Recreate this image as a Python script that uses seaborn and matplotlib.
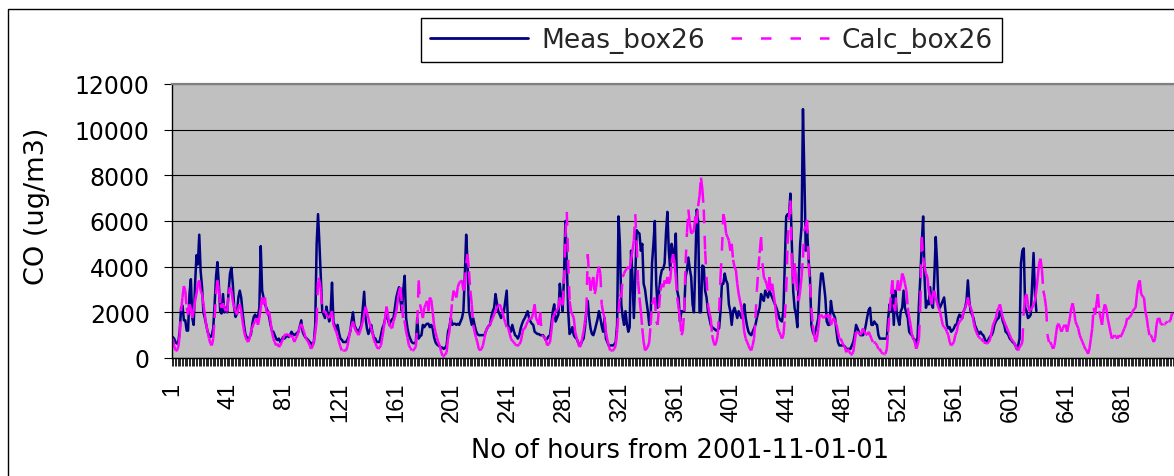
import numpy as np
import pandas as pd
import seaborn as sns
import matplotlib
matplotlib.use("Agg")
import matplotlib.pyplot as plt
from matplotlib.lines import Line2D
from matplotlib.patches import Rectangle

# Hourly CO concentrations (ug/m3), hour 1 = 2001-11-01 01:00
meas_co = [
    920, 850, 700, 630, 700, 1150, 2200, 2300, 1650, 1650,
    1200, 1200, 2800, 3450, 1750, 1450, 3200, 4500, 4100, 5400,
    3800, 3100, 2000, 1750, 1450, 1150, 1000, 920, 1000, 1300,
    2350, 3550, 4200, 3250, 2050, 1950, 2800, 2000, 2200, 2000,
    2900, 3700, 3950, 3250, 2200, 1800, 1950, 2650, 2950, 2650,
    2000, 1450, 1050, 900, 850, 900, 1050, 1500, 1800, 1900,
    1750, 1800, 2200, 4900, 2950, 2650, 2350, 2200, 2050, 1800,
    1450, 1200, 1150, 1000, 850, 780, 850, 700, 780, 920,
    850, 920, 1000, 920, 1000, 1150, 1050, 1000, 1050, 1100,
    1150, 1400, 1650, 1150, 1000, 900, 850, 780, 700, 650,
    550, 700, 1450, 5000, 6300, 5000, 3500, 2050, 1900, 1750,
    2250, 1900, 1600, 2000, 3300, 1600, 1400, 1200, 1450, 1100,
    850, 800, 700, 700, 700, 800, 950, 1150, 1600, 2000,
    1450, 1300, 1200, 1150, 1300, 1450, 2200, 2900, 1750, 1300,
    1050, 1200, 1450, 1100, 900, 850, 700, 700, 700, 1000,
    1300, 1450, 1700, 2050, 1700, 1450, 1600, 1700, 1750, 2200,
    2650, 2900, 3100, 2500, 2050, 3000, 3600, 1750, 1300, 1000,
    850, 700, 650, 650, 700, 1750, 850, 950, 1000, 1450,
    1350, 1450, 1500, 1500, 1350, 1450, 1300, 920, 700, 600,
    550, 500, 480, 450, 400, 450, 550, 1150, 1350, 1750,
    1450, 1500, 1500, 1450, 1500, 1450, 1600, 1750, 2050, 3550,
    5400, 4150, 2050, 1750, 1450, 1750, 1450, 1200, 1050, 1000,
    1000, 1000, 1000, 1000, 1150, 1300, 1400, 1450, 1800, 2050,
    2200, 2800, 2400, 2050, 1900, 1750, 1900, 2050, 2500, 2950,
    1450, 1300, 1150, 1450, 1200, 1000, 950, 850, 1000, 1300,
    1500, 1650, 1750, 1900, 2050, 1750, 1600, 1500, 1450, 1150,
    1100, 1050, 1050, 1000, 1000, 1000, 900, 780, 850, 950,
    1000, 1500, 2050, 2350, 1600, 1750, 1900, 3250, 2600, 2050,
    3550, 6000, 4150, 2050, 1050, 1150, 1350, 1000, 900, 850,
    700, 550, 600, 750, 850, 1300, 2050, 2500, 1750, 1300,
    1050, 1000, 1200, 1450, 1700, 2050, 1750, 1400, 1150, 1750,
    850, 700, 550, 550, 550, 550, 600, 700, 1450, 6200,
    5000, 2350, 1800, 1450, 2050, 1500, 1150, 1350, 4700, 3550,
    1750, 3500, 5600, 5500, 5450, 4700, 5000, 3250, 3000, 2500,
    2050, 1450, 1750, 4150, 5000, 6000, 3250, 2200, 2900, 3550,
    3850, 3900, 4150, 5500, 6400, 4700, 3850, 5000, 4600, 4400,
    5450, 2950, 2650, 1600, 2050, 2050, 2050, 3550, 3850, 4400,
    3900, 3550, 2350, 2000, 4150, 6500, 6000, 2000, 2000, 4050,
    4000, 2950, 2650, 2050, 1750, 1450, 1350, 1300, 1250, 1200,
    1250, 1300, 2050, 3250, 3250, 3700, 3400, 3250, 2350, 2050,
    1450, 2050, 2200, 2000, 1750, 2050, 1900, 1750, 2000, 2350,
    1750, 1400, 1150, 1050, 1000, 1150, 1300, 1450, 1750, 2000,
    2200, 2800, 2600, 2500, 2950, 2800, 2650, 2950, 2800, 2650,
    2500, 2350, 2200, 2000, 1750, 1650, 1600, 2050, 4150, 6200,
    6300, 6200, 7200, 5000, 2950, 2200, 1900, 1350, 3550, 5000,
    5750, 10900, 8000, 4700, 5600, 4300, 3550, 1450, 1150, 1000,
    1200, 1450, 1750, 2950, 3700, 3700, 3200, 2650, 1600, 1450,
    1450, 2500, 2050, 1900, 1750, 1150, 700, 550, 550, 550,
    550, 500, 400, 400, 400, 400, 550, 700, 1000, 1450,
    1300, 1150, 1000, 1000, 1000, 1150, 1450, 1800, 2100, 2200,
    1450, 1450, 1600, 1500, 1450, 1000, 850, 850, 850, 850,
    850, 850, 1750, 2350, 2050, 2950, 1450, 2950, 2050, 1700,
    1450, 2050, 2200, 2950, 2200, 1950, 1750, 1150, 1050, 1000,
    850, 800, 550, 900, 2350, 3550, 5000, 6200, 3550, 2200,
    2500, 2350, 3100, 2350, 2200, 3550, 5300, 4150, 2350, 2200,
    2350, 2500, 2650, 2050, 1450, 1300, 1350, 1150, 1200, 1300,
    1450, 1450, 1750, 1900, 1800, 1750, 2050, 2200, 2500, 3400,
    2500, 2050, 1900, 1750, 1450, 1300, 1150, 1050, 1150, 1050,
    1000, 850, 700, 700, 850, 950, 1000, 1150, 1450, 1600,
    1700, 1750, 2050, 1900, 1600, 1450, 1150, 1100, 1000, 850,
    780, 700, 650, 550, 400, 550, 850, 4150, 4700, 4800,
    2200, 2050, 1750, 1800, 1900, 3250, 4600, 2800, 2050,
]

calc_co = [
    850, 550, 330, 330, 480, 1000, 2050, 2650, 3150, 2950,
    2200, 1900, 2350, 2200, 1750, 2050, 2500, 2800, 3250, 3400,
    2950, 2800, 2350, 1900, 1450, 1150, 850, 630, 550, 850,
    1750, 2800, 3400, 3000, 2350, 2200, 2400, 2200, 2050, 2050,
    2800, 3100, 2950, 2500, 2200, 2050, 1900, 2200, 2350, 2050,
    1600, 1200, 920, 780, 700, 850, 1150, 1350, 1500, 1600,
    1750, 1450, 1750, 2200, 2650, 2350, 2650, 2050, 1900, 2050,
    1600, 1150, 850, 700, 550, 630, 480, 550, 700, 850,
    1000, 1050, 1000, 1050, 920, 1000, 900, 700, 850, 950,
    1150, 1350, 1500, 1300, 1150, 900, 800, 700, 550, 400,
    500, 700, 1100, 1600, 3500, 3400, 2950, 2050, 2050, 2050,
    1900, 1800, 1750, 1900, 2050, 1450, 1300, 1150, 950, 700,
    500, 330, 330, 330, 330, 500, 850, 1200, 1400, 1600,
    1350, 1200, 1100, 1000, 1150, 1350, 1600, 1900, 2250, 2000,
    1750, 1500, 1300, 1100, 780, 650, 500, 400, 450, 550,
    900, 1300, 1750, 2250, 1900, 1450, 1350, 1300, 1600, 1800,
    2050, 2500, 2950, 3100, 2350, 1600, 1600, 1150, 900, 550,
    450, 330, 330, 400, 500, 1500, 3400, 2350, 2050, 1750,
    2200, 2350, 2500, 2050, 2650, 2550, 2050, 1450, 1150, 900,
    700, 550, 300, 100, 100, 150, 250, 850, 1150, 1750,
    2500, 2950, 2800, 2650, 3100, 3300, 3350, 3400, 2950, 3150,
    4150, 4550, 3800, 2950, 2350, 1450, 1150, 900, 700, 400,
    330, 400, 550, 850, 1150, 1300, 1400, 1450, 1600, 1750,
    1900, 2050, 2200, 2300, 2350, 2200, 2000, 1750, 1550, 1350,
    1350, 1100, 850, 750, 700, 600, 550, 550, 600, 700,
    1000, 1300, 1300, 1450, 1600, 1700, 1750, 1750, 2000, 2350,
    1750, 1600, 1450, 2000, 1000, 950, 920, 800, 550, 600,
    700, 1200, 1750, 1900, 2050, 2100, 2200, 2650, 2350, 2350,
    3250, 5300, 6400, 4300, 2500, 2050, 1900, 1750, 1150, 900,
    700, 480, 550, 850, 1150, 1600, 2050, 4550, 3550, 2950,
    3300, 3550, 2800, 3100, 3700, 4000, 3700, 2350, 2000, 1750,
    1150, 800, 550, 330, 330, 330, 400, 550, 1150, 2000,
    2800, 2650, 3550, 3700, 3850, 3900, 4000, 3900, 4300, 4700,
    5150, 6300, 5000, 3400, 2650, 2050, 1300, 700, 330, 400,
    480, 700, 1450, 2350, 2500, 2650, 1600, 1450, 2200, 2950,
    3250, 3100, 3400, 3250, 3550, 3250, 3400, 4150, 4550, 4150,
    3550, 2650, 2200, 1750, 1000, 1150, 2050, 4150, 5500, 6500,
    5900, 5450, 5500, 5600, 6200, 5900, 6650, 7100, 7900, 7400,
    6500, 4700, 3550, 2350, 2000, 1750, 1000, 700, 550, 700,
    1000, 2050, 3550, 4700, 6300, 6050, 5450, 5300, 5150, 4700,
    5000, 4300, 4000, 3850, 3250, 2800, 2500, 2200, 1750, 1150,
    850, 700, 550, 400, 330, 550, 850, 1750, 2950, 3850,
    4600, 5300, 4150, 3550, 3400, 3250, 2950, 3550, 2950, 3250,
    2800, 2350, 1750, 1300, 1150, 1000, 850, 1000, 1750, 2950,
    5000, 6050, 6900, 4150, 3250, 4150, 3550, 2700, 2500, 2950,
    3550, 4400, 5600, 5800, 6050, 4150, 3250, 2200, 1450, 1000,
    700, 850, 1300, 1900, 1900, 1800, 1750, 1850, 1900, 1750,
    1900, 1450, 1600, 1750, 1600, 1450, 1150, 850, 850, 700,
    550, 480, 250, 400, 300, 180, 180, 250, 700, 1150,
    1150, 1100, 1000, 1150, 1300, 1150, 1050, 1000, 1150, 1000,
    850, 700, 700, 650, 550, 400, 400, 250, 200, 180,
    180, 400, 1150, 2050, 2800, 3400, 2350, 2050, 2950, 3400,
    2950, 3200, 3700, 3550, 3250, 2950, 2200, 1800, 1450, 1000,
    850, 700, 400, 550, 850, 2350, 5300, 4400, 4000, 3700,
    3550, 2950, 2650, 2350, 2800, 2950, 2650, 2400, 2200, 2050,
    1750, 1450, 1350, 1300, 1150, 1000, 700, 550, 600, 700,
    1000, 1150, 1450, 1600, 1650, 1750, 2050, 2200, 2350, 2650,
    2350, 2200, 2050, 1600, 1300, 1150, 1000, 900, 850, 850,
    700, 700, 630, 650, 700, 850, 1150, 1450, 1600, 1750,
    2050, 2200, 2350, 2050, 1750, 1600, 1450, 1300, 1150, 1000,
    850, 750, 700, 550, 400, 330, 480, 550, 700, 2050,
    2650, 2800, 2350, 2050, 2100, 2200, 2350, 2500, 2950, 3550,
    4150, 4350, 3850, 2950, 2650, 2200, 1000, 700, 700, 550,
    400, 550, 1000, 1450, 1500, 1300, 1150, 1300, 1450, 1450,
    1150, 1450, 1750, 2200, 2400, 2050, 1600, 1450, 1300, 1000,
    850, 700, 550, 400, 330, 180, 400, 850, 1300, 2200,
    1900, 2350, 2800, 2050, 1750, 1450, 2050, 2350, 2200, 1750,
    1450, 1150, 850, 920, 1000, 920, 850, 1000, 920, 1000,
    1150, 1300, 1450, 1750, 1750, 1800, 1900, 2050, 2150, 2200,
    2800, 3250, 3400, 2800, 2700, 2650, 2050, 1750, 1300, 1000,
    1000, 850, 700, 850, 1450, 1750, 1750, 1500, 1450, 1500,
    1500, 1550, 1600, 1600, 1650, 1950, 1900,
]

series_names = ["Meas_box26", "Calc_box26"]
series_colors = ["#000080", "#FF00FF"]
y_ticks = [0, 2000, 4000, 6000, 8000, 10000, 12000]
x_label_hours = list(range(1, 682, 40))
x_title = "No of hours from 2001-11-01-01"
y_title = "CO (ug/m3)"

sns.set_theme(style="white")
plt.rcParams["font.family"] = ["DejaVu Sans"]

W, H = 1174, 477
fig = plt.figure(figsize=(W / 100, H / 100), dpi=100)
fig.patch.set_facecolor("white")

# plot area in pixel geometry
left_px, top_px, bottom_px = 172, 85, 359
ax = fig.add_axes([left_px / W, 1 - bottom_px / H, (W - left_px) / W, (bottom_px - top_px) / H])
ax.set_facecolor("#C0C0C0")
ax.set_axisbelow(True)

line_w = 1.8
calc_dash_plot = (5.5, 5.0)
calc_dash_key = (4.2, 7.6)

# measured series: one continuous solid line
meas_df = pd.DataFrame({"hour": np.arange(1, len(meas_co) + 1), "co": meas_co})
sns.lineplot(data=meas_df, x="hour", y="co", color=series_colors[0], lw=line_w,
             estimator=None, sort=False, ax=ax, legend=False)

# calculated series: one unit per hourly step so each step starts its own dash pattern
n = len(calc_co)
calc_hours = np.arange(1, n + 1)
idx = np.column_stack([np.arange(n - 1), np.arange(1, n)]).ravel()
calc_df = pd.DataFrame({
    "hour": calc_hours[idx],
    "co": np.asarray(calc_co)[idx],
    "step": np.repeat(np.arange(n - 1), 2),
})
sns.lineplot(data=calc_df, x="hour", y="co", units="step", estimator=None, sort=False,
             color=series_colors[1], lw=line_w, linestyle=(0, calc_dash_plot),
             ax=ax, legend=False)

px_per_hour = 1.4
ax.set_xlim(0.5, 0.5 + (W - left_px) / px_per_hour)
ax.set_ylim(0, 12000)

# gridlines
ax.yaxis.grid(True, color="black", lw=0.8)
ax.xaxis.grid(False)

# y axis
ax.set_yticks(y_ticks)
ax.set_yticklabels([str(v) for v in y_ticks], fontsize=17)
ax.tick_params(axis="y", direction="out", length=6, width=0.8, color="black",
               pad=10, left=True, labelcolor="black")

# x axis: a tick mark at every hour boundary, labels every 40 hours
ax.set_xticks(x_label_hours)
ax.set_xticklabels([str(h) for h in x_label_hours], rotation=90, fontsize=17,
                   family="Liberation Sans", va="top", ha="center")
ax.set_xticks(np.arange(0.5, n + 1, 1.0), minor=True)
ax.tick_params(axis="x", which="major", length=0, pad=17, bottom=True, labelcolor="black")
ax.tick_params(axis="x", which="minor", direction="out", length=6, width=0.6,
               color="black", bottom=True)
ax.set_xlabel("")
ax.set_ylabel("")

for side in ["left", "bottom"]:
    ax.spines[side].set_visible(True)
    ax.spines[side].set_color("black")
    ax.spines[side].set_linewidth(1.0)
ax.spines["top"].set_visible(True)
ax.spines["top"].set_color("#808080")
ax.spines["top"].set_linewidth(1.6)
ax.spines["right"].set_visible(False)

# axis titles
fig.text(37 / W, 1 - 206 / H, y_title, rotation=90, ha="center", va="center",
         fontsize=19.5, color="black")
fig.text(680 / W, 1 - 451 / H, x_title, ha="center", va="center",
         fontsize=18.5, color="black")

# legend
handles = [
    Line2D([], [], color=series_colors[0], lw=2.0),
    Line2D([], [], color=series_colors[1], lw=line_w, dashes=calc_dash_key),
]
leg = fig.legend(handles, series_names, ncol=2, loc="center",
                 bbox_to_anchor=(711.5 / W, 1 - 41 / H), frameon=True, fancybox=False,
                 edgecolor="black", facecolor="white", framealpha=1, fontsize=19,
                 handlelength=3.7, handletextpad=0.5, columnspacing=1.0,
                 borderpad=0.35, borderaxespad=0)
leg.get_frame().set_linewidth(1.0)

# chart border
fig.add_artist(Rectangle((8 / W, -0.1), 1.2, 1.1 - 10 / H, transform=fig.transFigure,
                         fill=False, ec="black", lw=1.0))

fig.savefig("out.png", dpi=100)
